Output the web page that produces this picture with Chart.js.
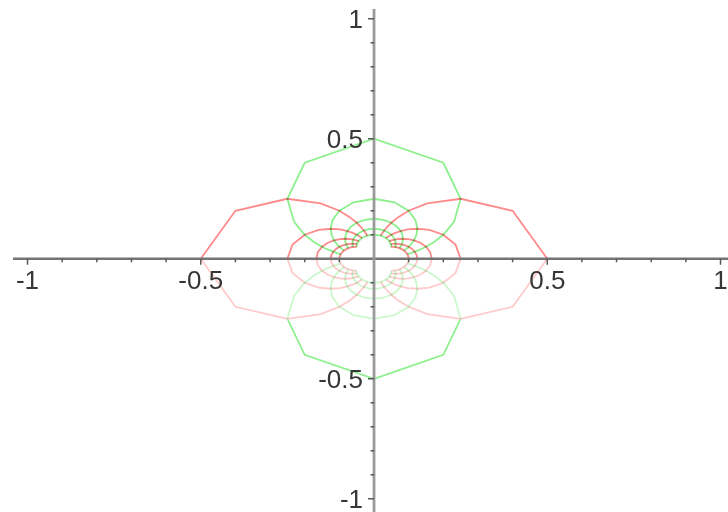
<!DOCTYPE html>
<html>
<head>
<meta charset="utf-8">
<script src="https://cdn.jsdelivr.net/npm/chart.js@4/dist/chart.umd.min.js"></script>
<style>
  html, body { margin: 0; padding: 0; background: #ffffff; }
  #wrap { width: 728px; height: 512px; }
</style>
</head>
<body>
<div id="wrap"><canvas id="c" width="728" height="512"></canvas></div>
<script>
// Images of the grid lines Re w = a under z = 1/w, for a = 2, 4, 6, 8, 10.
// Each list is the upper half of one polygonal circle tangent to the y-axis at the
// origin, from its point on the x-axis towards the origin (one vertex per grid step).
const ring2  = [[0.5,0],[0.4,0.2],[0.25,0.25],[0.1538,0.2308],[0.1,0.2],[0.069,0.1724],[0.05,0.15],[0.0377,0.1321],[0.0294,0.1176],[0.0235,0.1059],[0.0192,0.0962]];
const ring4  = [[0.25,0],[0.2353,0.0588],[0.2,0.1],[0.16,0.12],[0.125,0.125],[0.0976,0.122],[0.0769,0.1154],[0.0615,0.1077],[0.05,0.1],[0.0412,0.0928],[0.0345,0.0862]];
const ring6  = [[0.1667,0],[0.1622,0.027],[0.15,0.05],[0.1333,0.0667],[0.1154,0.0769],[0.0984,0.082],[0.0833,0.0833],[0.0706,0.0824],[0.06,0.08],[0.0513,0.0769],[0.0441,0.0735]];
const ring8  = [[0.125,0],[0.1231,0.0154],[0.1176,0.0294],[0.1096,0.0411],[0.1,0.05],[0.0899,0.0562],[0.08,0.06],[0.0708,0.0619],[0.0625,0.0625],[0.0552,0.0621],[0.0488,0.061]];
const ring10 = [[0.1,0],[0.099,0.0099],[0.0962,0.0192],[0.0917,0.0275],[0.0862,0.0345],[0.08,0.04],[0.0735,0.0441],[0.0671,0.047],[0.061,0.0488],[0.0552,0.0497],[0.05,0.05]];
const rings = [ring2, ring4, ring6, ring8, ring10];

// Axis ticks and their labels
const majorTicks = [-1, -0.5, 0.5, 1];
const majorLabels = ['-1', '-0.5', '0.5', '1'];
const minorTicks = [-0.9, -0.8, -0.7, -0.6, -0.4, -0.3, -0.2, -0.1, 0.1, 0.2, 0.3, 0.4, 0.6, 0.7, 0.8, 0.9];

const RED = '#ff8a8a';
const GREEN = '#8cf08c';

// Whole path of a ring through the origin: mirrored upper half + lower half.
function fullRing(half) {
  const up = half.slice().reverse().map(p => [p[0], p[1]]);
  const down = half.slice(1).map(p => [p[0], -p[1]]);
  return up.concat(down);
}

const datasets = [];
rings.forEach(half => {
  const path = fullRing(half);
  // circles tangent to the y-axis (right and left)
  datasets.push({ data: path.map(p => ({ x: p[0], y: p[1] })), borderColor: RED });
  datasets.push({ data: path.map(p => ({ x: -p[0], y: p[1] })), borderColor: RED });
  // circles tangent to the x-axis (upper and lower)
  datasets.push({ data: path.map(p => ({ x: p[1], y: p[0] })), borderColor: GREEN });
  datasets.push({ data: path.map(p => ({ x: p[1], y: -p[0] })), borderColor: GREEN });
});
datasets.forEach(d => {
  d.showLine = true;
  d.pointRadius = 0;
  d.borderWidth = 1.8;
  d.tension = 0;
  d.fill = false;
});

const blendPlugin = {
  id: 'blend',
  beforeDatasetsDraw(chart) {
    chart.ctx.save();
    chart.ctx.globalCompositeOperation = 'multiply';
  },
  afterDatasetsDraw(chart) {
    const ctx = chart.ctx;
    ctx.restore();
    const ys = chart.scales.y;
    const y0 = ys.getPixelForValue(0);
    // faded band just under the horizontal axis
    ctx.save();
    ctx.fillStyle = 'rgba(255,255,255,0.55)';
    ctx.fillRect(0, y0 + 1.5, chart.width, ys.getPixelForValue(-0.25) - y0);
    ctx.restore();
  }
};

const axesPlugin = {
  id: 'crossAxes',
  afterDraw(chart) {
    const ctx = chart.ctx;
    const xs = chart.scales.x, ys = chart.scales.y;
    const x0 = xs.getPixelForValue(0);
    const y0 = ys.getPixelForValue(0);
    ctx.save();
    // horizontal axis
    ctx.strokeStyle = '#747474';
    ctx.lineWidth = 2.5;
    ctx.beginPath();
    ctx.moveTo(xs.getPixelForValue(-1.042), y0);
    ctx.lineTo(chart.width, y0);
    ctx.stroke();
    // vertical axis
    ctx.strokeStyle = '#9a9a9a';
    ctx.lineWidth = 2.8;
    ctx.beginPath();
    ctx.moveTo(x0, ys.getPixelForValue(1.04));
    ctx.lineTo(x0, chart.height);
    ctx.stroke();
    // ticks
    ctx.strokeStyle = '#5a5a5a';
    ctx.lineWidth = 1.5;
    ctx.beginPath();
    minorTicks.forEach(v => {
      const px = xs.getPixelForValue(v);
      ctx.moveTo(px, y0); ctx.lineTo(px, y0 + 3.5);
      const py = ys.getPixelForValue(v);
      ctx.moveTo(x0, py); ctx.lineTo(x0 - 3.5, py);
    });
    majorTicks.forEach(v => {
      const px = xs.getPixelForValue(v);
      ctx.moveTo(px, y0); ctx.lineTo(px, y0 + 6);
      const py = ys.getPixelForValue(v);
      ctx.moveTo(x0, py); ctx.lineTo(x0 - 6, py);
    });
    ctx.stroke();
    // tick labels
    ctx.fillStyle = '#363636';
    ctx.font = '26px "Liberation Sans", Arial, sans-serif';
    ctx.textBaseline = 'alphabetic';
    ctx.textAlign = 'center';
    majorTicks.forEach((v, i) => {
      ctx.fillText(majorLabels[i], xs.getPixelForValue(v), y0 + 30);
    });
    ctx.textAlign = 'right';
    majorTicks.forEach((v, i) => {
      ctx.fillText(majorLabels[i], x0 - 11, ys.getPixelForValue(v) + 9.5);
    });
    ctx.restore();
  }
};

new Chart(document.getElementById('c'), {
  type: 'scatter',
  data: { datasets },
  options: {
    responsive: false,
    devicePixelRatio: 1,
    animation: false,
    layout: { padding: 0 },
    plugins: { legend: { display: false }, tooltip: { enabled: false } },
    scales: {
      x: { type: 'linear', min: -1.0794, max: 1.0216, display: false },
      y: { type: 'linear', min: -1.055, max: 1.078, display: false }
    }
  },
  plugins: [blendPlugin, axesPlugin]
});
</script>
</body>
</html>
